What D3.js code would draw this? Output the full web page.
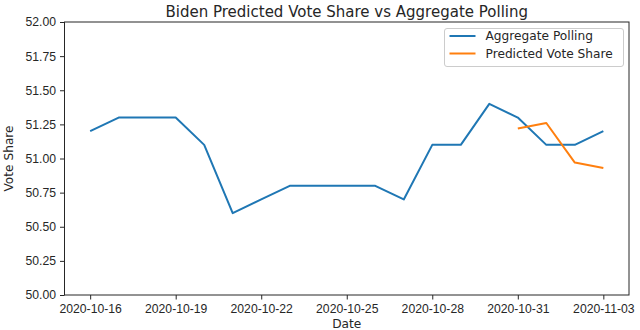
<!DOCTYPE html>
<html>
<head>
<meta charset="utf-8">
<script src="https://cdn.jsdelivr.net/npm/d3@7"></script>
<style>
  body { margin: 0; background: #fff; }
  svg { font-family: "DejaVu Sans", sans-serif; }
  .axis text { font-size: 12.2px; fill: #262626; }
  .axis path, .axis line { stroke: #262626; stroke-width: 1; }
</style>
</head>
<body>
<script>
// data
var pollDates = ["2020-10-16", "2020-10-17", "2020-10-18", "2020-10-19", "2020-10-20",
                 "2020-10-21", "2020-10-22", "2020-10-23", "2020-10-24", "2020-10-25",
                 "2020-10-26", "2020-10-27", "2020-10-28", "2020-10-29", "2020-10-30",
                 "2020-10-31", "2020-11-01", "2020-11-02", "2020-11-03"];
var pollValues = [51.2, 51.3, 51.3, 51.3, 51.1, 50.6, 50.7, 50.8, 50.8, 50.8,
                  50.8, 50.7, 51.1, 51.1, 51.4, 51.3, 51.1, 51.1, 51.2];

var predDates = ["2020-10-31", "2020-11-01", "2020-11-02", "2020-11-03"];
var predValues = [51.22, 51.26, 50.97, 50.93];

var xTickLabels = ["2020-10-16", "2020-10-19", "2020-10-22", "2020-10-25",
                   "2020-10-28", "2020-10-31", "2020-11-03"];
var yTickValues = [50.00, 50.25, 50.50, 50.75, 51.00, 51.25, 51.50, 51.75, 52.00];

var seriesNames = ["Aggregate Polling", "Predicted Vote Share"];
var seriesColors = ["#1f77b4", "#ff7f0e"];

// afmetingen
var W = 640, H = 330;
var margin = {top: 22, right: 11, bottom: 35, left: 64.5};
var width = W - margin.left - margin.right,
    height = H - margin.top - margin.bottom;

var parseDate = d3.utcParse("%Y-%m-%d");

var poll = pollDates.map(function(d, i) { return {date: parseDate(d), value: pollValues[i]}; });
var pred = predDates.map(function(d, i) { return {date: parseDate(d), value: predValues[i]}; });

// matplotlib laat 5% marge aan beide kanten
var ext = d3.extent(poll, function(d) { return d.date; });
var pad = (ext[1] - ext[0]) * 0.05;

var x = d3.scaleUtc()
    .domain([new Date(+ext[0] - pad), new Date(+ext[1] + pad)])
    .range([0, width]);
var y = d3.scaleLinear().domain([50, 52]).range([height, 0]);

var svg = d3.select("body").append("svg")
    .attr("width", W)
    .attr("height", H);

var g = svg.append("g")
    .attr("transform", "translate(" + margin.left + "," + margin.top + ")");

var line = d3.line()
    .x(function(d) { return x(d.date); })
    .y(function(d) { return y(d.value); });

[poll, pred].forEach(function(s, i) {
  g.append("path")
      .datum(s)
      .attr("fill", "none")
      .attr("stroke", seriesColors[i])
      .attr("stroke-width", 2)
      .attr("stroke-linejoin", "round")
      .attr("d", line);
});

// kader
g.append("rect")
    .attr("width", width)
    .attr("height", height)
    .attr("fill", "none")
    .attr("stroke", "#262626")
    .attr("stroke-width", 1);

// x as
g.append("g")
    .attr("class", "axis")
    .attr("transform", "translate(0," + height + ")")
    .call(d3.axisBottom(x)
        .tickValues(xTickLabels.map(parseDate))
        .tickFormat(d3.utcFormat("%Y-%m-%d"))
        .tickSizeInner(4.5).tickSizeOuter(0).tickPadding(5))
    .call(function(a) { a.select(".domain").remove(); });

// y as
g.append("g")
    .attr("class", "axis")
    .call(d3.axisLeft(y)
        .tickValues(yTickValues)
        .tickFormat(d3.format(".2f"))
        .tickSizeInner(4.5).tickSizeOuter(0).tickPadding(4))
    .call(function(a) { a.select(".domain").remove(); });

// titels
svg.append("text")
    .attr("x", margin.left + width / 2)
    .attr("y", 16.5)
    .attr("text-anchor", "middle")
    .attr("font-size", "15px")
    .attr("fill", "#262626")
    .text("Biden Predicted Vote Share vs Aggregate Polling");

svg.append("text")
    .attr("x", margin.left + width / 2)
    .attr("y", 328)
    .attr("text-anchor", "middle")
    .attr("font-size", "12.2px")
    .attr("fill", "#262626")
    .text("Date");

svg.append("text")
    .attr("transform", "translate(13," + (margin.top + height / 2) + ") rotate(-90)")
    .attr("text-anchor", "middle")
    .attr("font-size", "12.2px")
    .attr("fill", "#262626")
    .text("Vote Share");

// legenda
var lg = svg.append("g").attr("transform", "translate(444.5,28.5)");
lg.append("rect")
    .attr("width", 179)
    .attr("height", 38)
    .attr("rx", 2.5)
    .attr("fill", "#fff")
    .attr("fill-opacity", 0.8)
    .attr("stroke", "#cccccc");

seriesNames.forEach(function(name, i) {
  var yy = 7.5 + i * 17.5;
  lg.append("line")
      .attr("x1", 5).attr("x2", 31)
      .attr("y1", yy).attr("y2", yy)
      .attr("stroke", seriesColors[i])
      .attr("stroke-width", 2);
  lg.append("text")
      .attr("x", 41)
      .attr("y", yy + 4.3)
      .attr("font-size", "12.2px")
      .attr("fill", "#262626")
      .text(name);
});
</script>
</body>
</html>
